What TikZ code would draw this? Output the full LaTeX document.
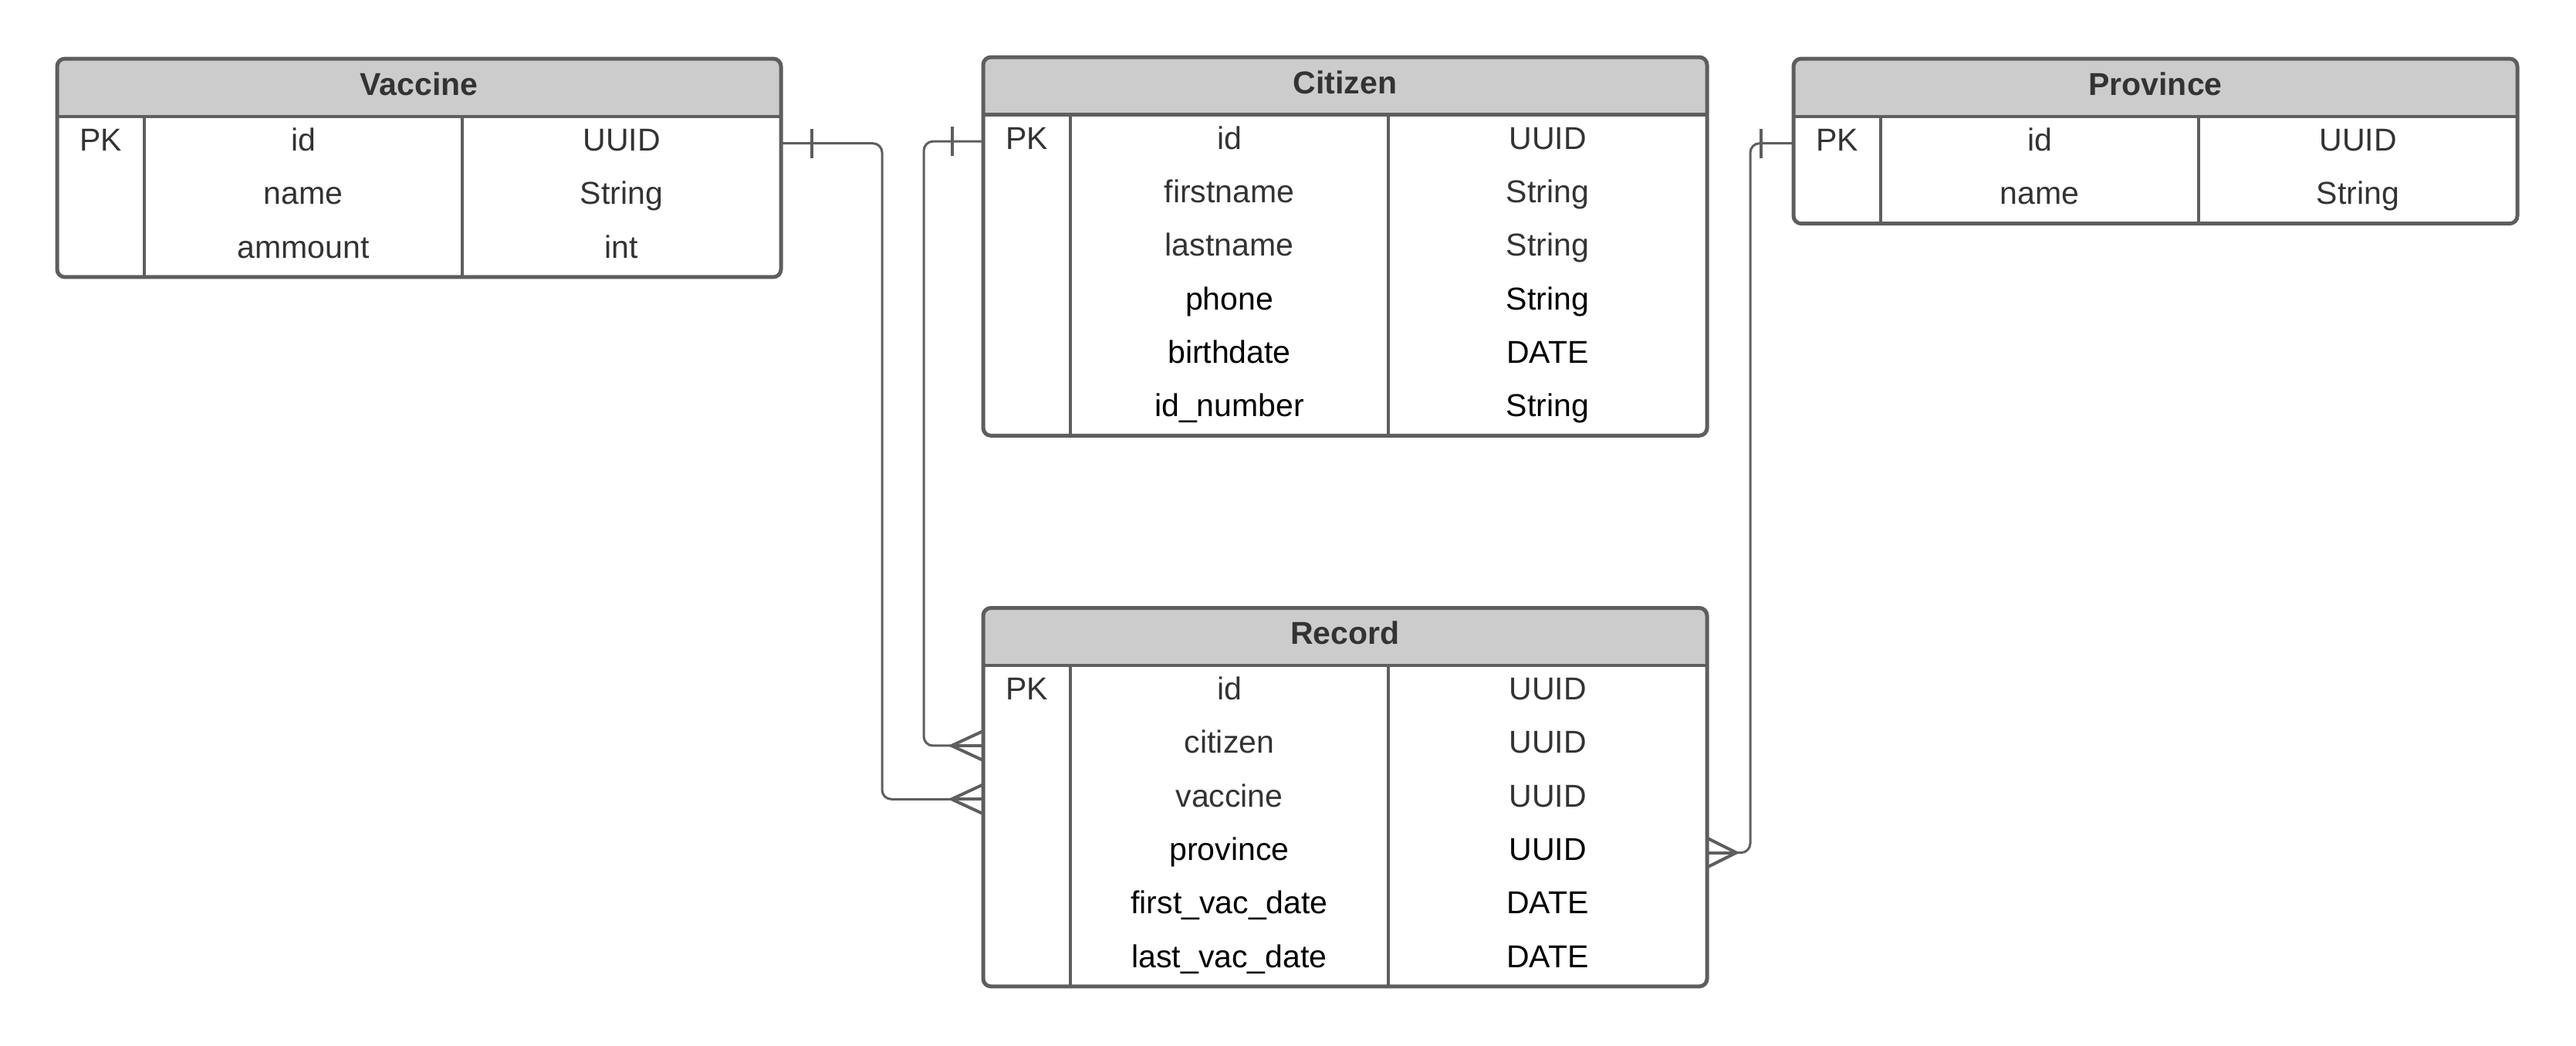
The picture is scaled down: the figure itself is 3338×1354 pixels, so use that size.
\documentclass[tikz,border=0pt]{standalone}
\usepackage{fontspec}
\setmainfont{Liberation Sans}
\usetikzlibrary{calc}
\definecolor{ln}{HTML}{5E5E5E}
\definecolor{hdrfill}{HTML}{CCCCCC}
\definecolor{tx}{HTML}{333333}
\tikzset{
  tline/.style={draw=ln, line width=1.2pt},
  tbox/.style={draw=ln, line width=1.25pt, rounded corners=2.5pt, inner sep=0pt, outer sep=0pt},
  cell/.style={font=\fontsize{10.25}{12}\selectfont, text height=7.5pt, text depth=2.5pt, inner sep=0pt},
  ttitle/.style={cell, font=\fontsize{10.25}{12}\selectfont\bfseries, text=tx},
  conn/.style={draw=ln, line width=0.75pt, rounded corners=3pt},
  crow/.style={draw=ln, line width=1pt},
}
\newcommand\ertable[6]{%
  \fill[hdrfill, rounded corners=2.5pt] (#2,#3) rectangle (#2+938,#4);
  \fill[hdrfill] (#2,#4-20) rectangle (#2+938,#4);
  \draw[tline] (#2,#4) -- (#2+938,#4);
  \draw[tline] (#2+113,#4) -- (#2+113,#5);
  \draw[tline] (#2+525,#4) -- (#2+525,#5);
  \node[tbox, minimum width=234.5pt, minimum height={(#5-#3)*0.25pt}, anchor=north west] (#1) at (#2,#3) {};
  \node[ttitle] (#1-h) at (#2+469,{(#3+#4)/2}) {#6};
  \node[cell, text=tx] (#1-pk) at (#2+56.5,#4+34.65) {PK};
}
\begin{document}
\begin{tikzpicture}[x=0.25pt, y=-0.25pt]
\useasboundingbox (0,0) rectangle (3338,1354);

% tables
\ertable{vac}{74}{76}{151}{358.9}{Vaccine}
\foreach \a/\b/\c [count=\i] in {id/UUID/tx, name/String/tx, ammount/int/tx} {
  \node[cell, text=\c] (vac-\i-a) at (74+319, {151+69.3*(\i-0.5)}) {\a};
  \node[cell, text=\c] (vac-\i-b) at (74+731.5, {151+69.3*(\i-0.5)}) {\b};
}

\ertable{cit}{1274}{74}{148.5}{564.3}{Citizen}
\foreach \a/\b/\c [count=\i] in {id/UUID/tx, firstname/String/tx, lastname/String/tx, phone/String/black, birthdate/DATE/black, id\_number/String/black} {
  \node[cell, text=\c] (cit-\i-a) at (1274+319, {148.5+69.3*(\i-0.5)}) {\a};
  \node[cell, text=\c] (cit-\i-b) at (1274+731.5, {148.5+69.3*(\i-0.5)}) {\b};
}

\ertable{pro}{2324}{76}{151}{289.6}{Province}
\foreach \a/\b/\c [count=\i] in {id/UUID/tx, name/String/tx} {
  \node[cell, text=\c] (pro-\i-a) at (2324+319, {151+69.3*(\i-0.5)}) {\a};
  \node[cell, text=\c] (pro-\i-b) at (2324+731.5, {151+69.3*(\i-0.5)}) {\b};
}

\ertable{rec}{1274}{787.5}{862}{1277.8}{Record}
\foreach \a/\b/\c [count=\i] in {id/UUID/tx, citizen/UUID/tx, vaccine/UUID/tx, province/UUID/black, first\_vac\_date/DATE/black, last\_vac\_date/DATE/black} {
  \node[cell, text=\c] (rec-\i-a) at (1274+319, {862+69.3*(\i-0.5)}) {\a};
  \node[cell, text=\c] (rec-\i-b) at (1274+731.5, {862+69.3*(\i-0.5)}) {\b};
}

% connector end points
\coordinate (vacR) at (vac-1-a -| vac.east);
\coordinate (citL) at (cit-1-a -| cit.west);
\coordinate (proL) at (pro-1-a -| pro.west);
\coordinate (recCit) at (rec-2-a -| rec.west);
\coordinate (recVac) at (rec-3-a -| rec.west);
\coordinate (recPro) at (rec-4-a -| rec.east);

% connectors
\draw[conn] (vacR) -- ++(131,0) |- (recVac);
\draw[conn] (citL) -- ++(-77,0) |- (recCit);
\draw[conn] (proL) -- ++(-56,0) |- (recPro);

% one-marks
\draw[crow] ($(vacR)+(40,-19)$) -- ($(vacR)+(40,19)$);
\draw[crow] ($(citL)+(-40,-19)$) -- ($(citL)+(-40,19)$);
\draw[crow] ($(proL)+(-42,-19)$) -- ($(proL)+(-42,19)$);

% crow's feet
\draw[crow] ($(recCit)+(0,-19)$) -- ($(recCit)+(-41,0)$) -- ($(recCit)+(0,19)$);
\draw[crow] ($(recCit)+(-41,0)$) -- (recCit);
\draw[crow] ($(recVac)+(0,-19)$) -- ($(recVac)+(-41,0)$) -- ($(recVac)+(0,19)$);
\draw[crow] ($(recVac)+(-41,0)$) -- (recVac);
\draw[crow] ($(recPro)+(0,-19)$) -- ($(recPro)+(38,0)$) -- ($(recPro)+(0,19)$);
\draw[crow] ($(recPro)+(38,0)$) -- (recPro);
\end{tikzpicture}
\end{document}
